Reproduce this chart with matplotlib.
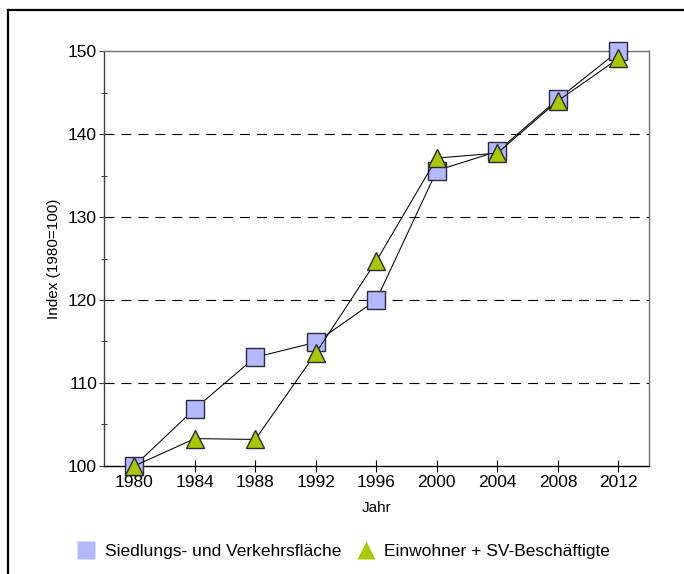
import matplotlib
matplotlib.use('Agg')
import matplotlib.pyplot as plt
from matplotlib.lines import Line2D
from matplotlib.ticker import MultipleLocator

# Werte (Index 1980=100)
jahre = ['1980', '1984', '1988', '1992', '1996', '2000', '2004', '2008', '2012']
siedlung = [100.0, 106.9, 113.1, 114.9, 120.0, 135.6, 137.9, 144.2, 150.0]
einwohner = [100.0, 103.3, 103.2, 113.6, 124.7, 137.1, 137.7, 144.0, 149.1]
grid_levels = [110, 120, 130, 140]

label_s = 'Siedlungs- und Verkehrsfläche'
label_e = 'Einwohner + SV-Beschäftigte'

col_s = '#b4b9ff'
col_e = '#a8c800'
edge = '#2a2a3a'

plt.rcParams['lines.scale_dashes'] = False
font = ['Liberation Sans', 'DejaVu Sans']

W, H = 684, 574
fig = plt.figure(figsize=(W / 100, H / 100), dpi=100)
ax = fig.add_axes([104 / W, (H - 466) / H, (648.7 - 104) / W, (466 - 51) / H])

x = list(range(len(jahre)))
ax.plot(x, siedlung, color='black', lw=0.75, marker='s', ms=12.5,
        mfc=col_s, mec=edge, mew=1.0, zorder=3, clip_on=False)
ax.plot(x, einwohner, color='black', lw=0.75, marker='^', ms=12.5,
        mfc=col_e, mec=edge, mew=1.0, zorder=4, clip_on=False)

for g in grid_levels:
    ax.axhline(g, color='black', lw=0.8, ls=(0, (7.2, 5.0)), zorder=1)

ax.set_xlim(-0.5, len(jahre) - 0.5)
ax.set_ylim(100, 150)
ax.set_xticks(x)
ax.set_xticklabels(jahre, family=font, fontsize=12.5)
ax.yaxis.set_major_locator(MultipleLocator(10))
ax.yaxis.set_minor_locator(MultipleLocator(5))
for lab in ax.get_yticklabels():
    lab.set_family(font)
    lab.set_fontsize(12.5)

ax.tick_params(axis='x', direction='inout', length=8.6, width=0.8, pad=2, colors='black')
ax.tick_params(axis='y', which='major', direction='out', length=3.5, width=0.8, pad=1.5,
               color='#404040')
ax.tick_params(axis='y', which='minor', direction='inout', length=4, width=0.8, color='#404040')

ax.spines['left'].set_color('#404040')
ax.spines['bottom'].set_color('black')
ax.spines['top'].set_color('#707070')
ax.spines['right'].set_color('#707070')
for s in ax.spines.values():
    s.set_linewidth(1.0)

ax.set_ylabel('Index (1980=100)', family=font, fontsize=11, labelpad=5)
ax.set_xlabel('Jahr', family=font, fontsize=11, labelpad=8)

handles = [
    Line2D([], [], ls='none', marker='s', ms=13, mfc=col_s, mec='none', label=label_s),
    Line2D([], [], ls='none', marker='^', ms=13, mfc=col_e, mec='none', label=label_e),
]
fig.legend(handles=handles, loc='center', bbox_to_anchor=(343.5 / W, (H - 551) / H),
           ncol=2, frameon=False, handlelength=1.1, handletextpad=0.5,
           columnspacing=0.9, borderpad=0,
           prop={'family': font, 'size': 12.5})

# Rahmen oben und links
fig.add_artist(Line2D([8 / W, 1.0], [1 - 10 / H, 1 - 10 / H], color='black', lw=1.6,
                      transform=fig.transFigure))
fig.add_artist(Line2D([8 / W, 8 / W], [0.0, 1 - 10 / H], color='black', lw=1.6,
                      transform=fig.transFigure))

fig.savefig('out.png', dpi=100)
